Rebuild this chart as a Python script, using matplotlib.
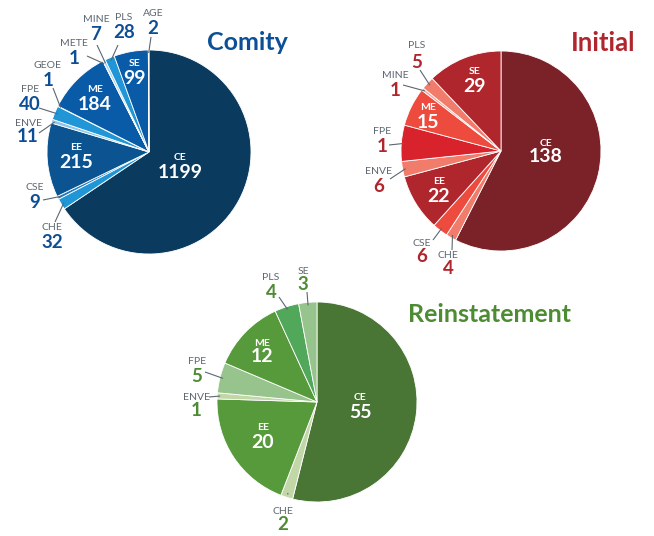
import matplotlib
matplotlib.use('Agg')
import matplotlib.pyplot as plt
import numpy as np

plt.rcParams['font.family'] = ['Lato', 'DejaVu Sans']

W, H = 654, 536

# ---------------- data ----------------
comity_labels = ['CE', 'CHE', 'CSE', 'EE', 'ENVE', 'FPE', 'GEOE', 'ME', 'METE', 'MINE', 'PLS', 'SE', 'AGE']
comity_values = [1199, 32, 9, 215, 11, 40, 1, 184, 1, 7, 28, 99, 2]
comity_shown = [str(v) for v in comity_values]

initial_labels = ['CE', 'CHE', 'CSE', 'EE', 'ENVE', 'FPE', 'ME', 'MINE', 'PLS', 'SE']
initial_values = [138, 4, 6, 22, 6, 14, 15, 1, 5, 29]
initial_shown = ['138', '4', '6', '22', '6', '1', '15', '1', '5', '29']

reinst_labels = ['CE', 'CHE', 'EE', 'ENVE', 'FPE', 'ME', 'PLS', 'SE']
reinst_values = [55, 2, 20, 1, 5, 12, 4, 3]
reinst_shown = [str(v) for v in reinst_values]

# ---------------- styles ----------------
comity_colors = ['#0b3a5f', '#2196d6', '#1b7cc4', '#0b5391', '#8cc6ec', '#2196d6', '#8cc6ec',
                 '#0a5ba7', '#8cc6ec', '#a3d2f0', '#2196d6', '#0a5ba7', '#a3d2f0']
initial_colors = ['#7b2228', '#f17c6c', '#ee4b3f', '#af262d', '#f17c6c', '#d8232d', '#ee4b3f',
                  '#f6a596', '#f17c6c', '#af262d']
reinst_colors = ['#497535', '#c2d7a8', '#579a3c', '#c2d7a8', '#97c48c', '#579a3c', '#52a85a', '#97c48c']

GREY = '#5d6670'

fig = plt.figure(figsize=(6.54, 5.36), dpi=100)
ax = fig.add_axes([0, 0, 1, 1])


def P(x, y):
    return (x, H - y)


def draw(values, labels, shown, colors, center, r, inside, outside, numcolor, title, tpos, tsize):
    cx, cy = P(*center)
    wedges, _ = ax.pie(values, colors=colors, startangle=90, counterclock=False,
                       center=(cx, cy), radius=r,
                       wedgeprops=dict(edgecolor='white', linewidth=0.6))
    for w, lab, txt in zip(wedges, labels, shown):
        if lab in inside:
            x, yc, yn = inside[lab]
            ax.text(*P(x, yc), lab, color='white', fontsize=7.5, fontweight='bold',
                    ha='center', va='center')
            ax.text(*P(x, yn), txt, color='white', fontsize=14, fontweight='bold',
                    ha='center', va='center')
        elif lab in outside:
            x, yc, yn, lx, ly = outside[lab]
            mid = np.deg2rad((w.theta1 + w.theta2) / 2)
            ix = cx + 0.97 * r * np.cos(mid)
            iy = cy + 0.97 * r * np.sin(mid)
            ax.plot([ix, lx], [iy, H - ly], color=GREY, lw=0.8, solid_capstyle='butt')
            ax.text(*P(x, yc), lab, color=GREY, fontsize=7.5, ha='center', va='center')
            ax.text(*P(x, yn), txt, color=numcolor, fontsize=13.5, fontweight='bold',
                    ha='center', va='center')
    ax.text(*P(*tpos), title, color=numcolor, fontsize=tsize, fontweight='bold',
            ha='center', va='center')


draw(comity_values, comity_labels, comity_shown, comity_colors, (149, 152), 102,
     inside={'CE': (180, 157, 172), 'EE': (76, 148, 163), 'ME': (95, 89, 104), 'SE': (135, 63, 79)},
     outside={'AGE': (153, 13, 28, 151, 37), 'PLS': (124, 17, 33, 118, 45),
              'MINE': (96, 19, 34, 97, 45), 'METE': (74, 44, 59, 87, 56),
              'GEOE': (48, 66, 80, 53, 88), 'FPE': (30, 89, 104, 39, 108),
              'ENVE': (28, 123, 137, 39, 133), 'CSE': (35, 188, 203, 43, 200),
              'CHE': (52, 227, 242, 55, 222)},
     numcolor='#0c4f96', title='Comity', tpos=(247, 43), tsize=18)

draw(initial_values, initial_labels, initial_shown, initial_colors, (501, 151), 100,
     inside={'CE': (546, 143, 156), 'SE': (475, 72, 87), 'ME': (428, 107, 122), 'EE': (439, 182, 196)},
     outside={'PLS': (417, 45, 62, 420, 70), 'MINE': (395, 76, 91, 403, 85),
              'FPE': (382, 132, 146, 389, 145), 'ENVE': (379, 172, 187, 390, 179),
              'CSE': (422, 243, 257, 433, 240), 'CHE': (448, 256, 269, 452, 250)},
     numcolor='#b0262e', title='Initial', tpos=(603, 43), tsize=18.5)

draw(reinst_values, reinst_labels, reinst_shown, reinst_colors, (317, 402), 100,
     inside={'CE': (360, 397, 412), 'ME': (262, 343, 357), 'EE': (263, 427, 442)},
     outside={'SE': (303, 271, 285, 307, 292), 'PLS': (271, 278, 293, 279, 297),
              'FPE': (197, 362, 377, 205, 372), 'ENVE': (196, 397, 411, 209, 397),
              'CHE': (283, 511, 525, 288, 493)},
     numcolor='#4e8c33', title='Reinstatement', tpos=(490, 315), tsize=18)

ax.set_xlim(0, W)
ax.set_ylim(0, H)
ax.set_aspect('equal')
ax.axis('off')

fig.savefig('out.png', dpi=100)
